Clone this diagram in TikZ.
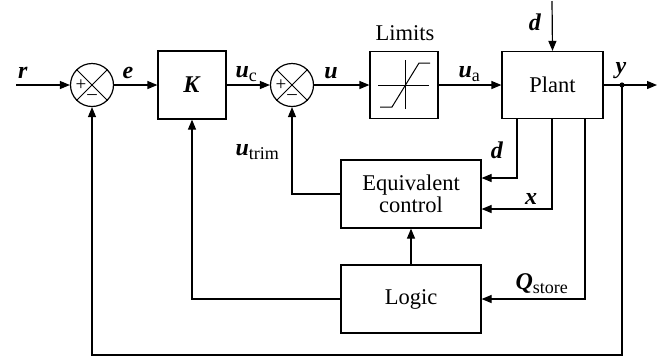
\documentclass[tikz,border=0pt]{standalone}
\usepackage{fontspec}
\setmainfont{Liberation Serif}
\usetikzlibrary{arrows.meta}
\newcommand{\mysub}[1]{\raisebox{-0.45ex}{\fontsize{18}{18}\selectfont #1}}
\newcommand{\bi}[1]{{\fontsize{24}{26}\selectfont\textbf{\textit{#1}}}}
\begin{document}
\begin{tikzpicture}[x=1pt,y=-1pt,line width=1.2pt,
  >={Triangle[length=10pt,width=8pt]},
  every node/.style={font=\fontsize{22.5}{25}\selectfont},
  blk/.style={draw,inner sep=0pt},
  sumj/.style={draw,circle,minimum size=43pt,inner sep=0pt},
  lab/.style={inner sep=0pt},
  sgn/.style={inner sep=0pt,font=\fontsize{19}{19}\selectfont}]
\useasboundingbox (0,0) rectangle (660,360);
% blocks
\node[sumj] (s1) at (92,85) {};
\node[blk,minimum width=68pt,minimum height=68pt] (K) at (192,85) {\bi{K}};
\node[sumj] (s2) at (292,85) {};
\node[blk,minimum width=68pt,minimum height=67pt] (L) at (404,85) {};
\node[blk,minimum width=101pt,minimum height=67pt] (P) at (552.5,85) {Plant};
\node[blk,minimum width=140pt,minimum height=68pt,align=center] (E) at (411,194) {Equivalent\\[-3pt]control};
\node[blk,minimum width=140pt,minimum height=68pt] (Lg) at (411,299) {Logic};
% sum crosses and signs
\foreach \s in {s1,s2}{
  \draw[line width=1pt] (\s.north west) -- (\s.south east);
  \draw[line width=1pt] (\s.north east) -- (\s.south west);
  \node[sgn] at ([xshift=-11pt]\s.center) {+};
  \node[sgn] at ([yshift=-12pt]\s.center) {--};
}
% limits symbol
\draw[line width=1pt] (378,85) -- (429,85);
\draw[line width=1pt] (405,60) -- (405,109);
\draw[line width=1pt] (380,107) -- (392,107) -- (419,63) -- (430,63);
% coordinates
\coordinate (rin) at (16,85);
\coordinate (dtop) at (552,1);
\coordinate (yout) at (657,85);
\coordinate (ydot) at (622,85);
\coordinate (fb) at (622,355);
% connectors
\draw[->] (rin) -- (s1);
\draw[->] (s1) -- (K);
\draw[->] (K) -- (s2);
\draw[->] (s2) -- (L);
\draw[->] (L) -- (P);
\draw[->] (dtop) -- (P.north);
\draw[->] (P) -- (yout);
\fill (ydot) circle (2.6pt);
\draw[->] (ydot) -- (fb) -| (s1.south);
\draw[->] ([xshift=-35.5pt]P.south) |- ([yshift=16pt]E.east);
\draw[->] ([xshift=-0.5pt]P.south) |- ([yshift=-15pt]E.east);
\draw[->] ([xshift=32.5pt]P.south) |- (Lg.east);
\draw[->] (Lg) -- (E);
\draw[->] (Lg.west) -| (K.south);
\draw[->] (E.west) -| (s2.south);
% labels
\node[lab] at (23,73) {\bi{r}};
\node[lab] at (128,73) {\bi{e}};
\node[lab,anchor=base west] at (235,77) {\bi{u}\mysub{c}};
\node[lab] at (331,73) {\bi{u}};
\node[lab] at (405,33) {Limits};
\node[lab,anchor=base west] at (458,77) {\bi{u}\mysub{a}};
\node[lab] at (535,22) {\bi{d}};
\node[lab] at (621,71) {\bi{y}};
\node[lab] at (497,150) {\bi{d}};
\node[lab] at (531,199) {\bi{x}};
\node[lab,anchor=base west] at (515,289) {\bi{Q}\mysub{store}};
\node[lab,anchor=base west] at (235,155) {\bi{u}\mysub{trim}};
\end{tikzpicture}
\end{document}
